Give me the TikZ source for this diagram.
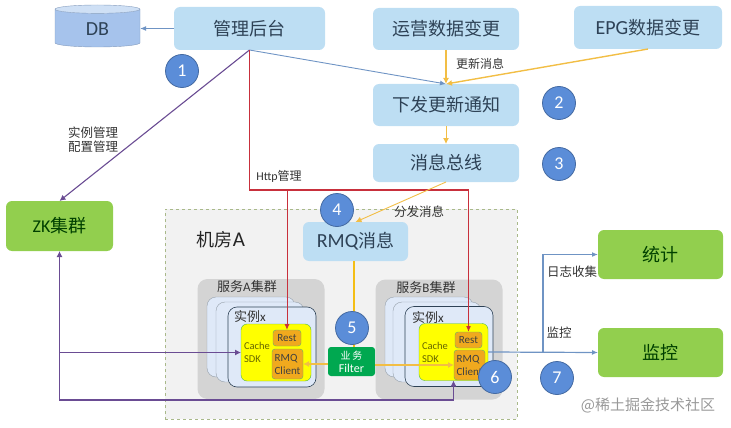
\documentclass[tikz,border=0pt]{standalone}
\usepackage{fontspec}
\setmainfont{Noto Sans CJK SC}
\newfontfamily\lat{Carlito}
\usetikzlibrary{arrows.meta,positioning,calc,shapes.geometric}
\newcommand{\fsz}[1]{\fontsize{#1}{#1}\selectfont}
\definecolor{boxblue}{HTML}{BDDEF3}
\definecolor{boxgreen}{HTML}{92CF4E}
\definecolor{stepblue}{HTML}{5B8DD8}
\definecolor{linepurple}{HTML}{6A4C93}
\definecolor{lineblue}{HTML}{6F94C4}
\definecolor{lineyellow}{HTML}{F2BE45}
\definecolor{linered}{HTML}{C8303C}
\definecolor{fillorange}{HTML}{F0A91E}
\definecolor{fillyellow}{HTML}{FFFF00}
\definecolor{fillgreen}{HTML}{00A850}
\definecolor{instblue}{HTML}{DFE9F8}
\definecolor{boxtext}{HTML}{2E4256}
\definecolor{roomedge}{HTML}{A9B98A}
\definecolor{dbbody}{HTML}{A6C3EC}
\definecolor{dbtop}{HTML}{CFE0F5}

\begin{document}
\begin{tikzpicture}[
  x=1pt,y=-1pt,>=Latex,outer sep=0pt,
  bluebox/.style={fill=boxblue, rounded corners=6pt, align=center, text=boxtext, font=\fsz{18}, minimum width=146pt, minimum height=42pt},
  greenbox/.style={fill=boxgreen, rounded corners=6pt, align=center, text=green!25!black, font=\fsz{18}, minimum width=125pt, minimum height=49pt},
  stepnum/.style={circle, draw=stepblue!75!black, fill=stepblue, thick, text=white, font=\lat\fsz{18}, minimum size=33pt, inner sep=0pt},
  lbl/.style={align=center, inner sep=0pt, text=black!80, font=\fsz{12}},
  cluster/.style={fill=black!17, rounded corners=10pt, minimum width=127pt, minimum height=120pt},
  instback/.style={draw=boxtext!50, fill=instblue, rounded corners=9pt, minimum width=88pt, minimum height=80pt},
  instfront/.style={draw=boxtext, semithick, fill=instblue, rounded corners=9pt, minimum width=88pt, minimum height=80pt},
  sdkbox/.style={draw=green!60!black!70, fill=fillyellow, rounded corners=6pt, minimum width=69pt, minimum height=57pt},
  partbox/.style={draw=green!50!black!60, fill=fillorange, rounded corners=3pt, align=left, inner sep=0pt, text=black!75, font=\lat\fsz{11}},
  sdktext/.style={align=left, inner sep=0pt, text=black!60!fillyellow, font=\lat\fsz{10.5}},
  bluearrow/.style={lineblue, line width=1.2pt, ->, >={Latex[length=6pt,width=5pt]}},
  yellowarrow/.style={lineyellow, line width=1.4pt, ->, >={Latex[length=6pt,width=6pt]}},
  purplearrow/.style={linepurple, line width=1.1pt, >={Latex[length=6pt,width=6pt]}},
  redarrow/.style={linered, line width=1pt, ->, >={Latex[length=6pt,width=5pt]}},
]
\useasboundingbox (0,0) rectangle (731,428);

% top row
\node[bluebox, minimum width=151pt, minimum height=43pt] (admin) at (249.5,28.5) {管理后台};
\node[cylinder, shape border rotate=90, aspect=0.28, cylinder uses custom fill, cylinder body fill=dbbody, cylinder end fill=dbtop, draw=dbbody!80!black, minimum width=85pt, minimum height=42pt, text=boxtext, font=\lat\fsz{20}] (db) at (97.5,29) {DB};
\node[bluebox] (ops) at (446,29) {运营数据变更};
\node[bluebox, minimum width=148pt, minimum height=43pt] (epg) at (648,27.5) {{\lat\fsz{20}EPG}数据变更};

% message path
\node[bluebox, below=34pt of ops] (notify) {下发更新通知};
\node[bluebox, below=18pt of notify, minimum height=38pt] (msgbus) {消息总线};

% right and left hand systems
\node[greenbox, minimum width=107pt, minimum height=50pt] (zk) at (59.5,226) {{\lat ZK}集群};
\node[greenbox] (stats) at (660.5,254.5) {统计};
\node[greenbox, below=49pt of stats] (monitor) {监控};

% machine room
\node[draw=roomedge, dashed, thick, fill=black!5, minimum width=352pt, minimum height=210pt] (room) at (341,314) {};
\node[inner sep=0pt, text=black!85, font=\fsz{18}] (roomname) at (221,240) {机房{\lat\fsz{21}A}};
\node[bluebox, minimum width=105pt, minimum height=39pt] (rmq) at (355.5,241.5) {{\lat\fsz{20}RMQ}消息};
\node[fill=fillgreen, rounded corners=3pt, text=white, align=center, font=\fsz{10}, inner sep=0pt, minimum width=47pt, minimum height=29pt] (filter) at (351.5,361.5) {业\,务\\[3pt]{\lat\fsz{12}Filter}};

% cluster A
\node[cluster] (clustera) at (261,339) {};
\node[lbl, font=\fsz{13}] (clusteraname) at (247,287) {服务{\lat A}集群};
\node[instback] (insta1) at (251,337) {};
\node[instback] (insta2) at (260,342) {};
\node[instfront] (insta3) at (272,347) {};
\node[lbl, font=\fsz{13}] (instaname) at (250,317) {实例{\lat x}};
\node[sdkbox, minimum width=70pt] (sdka) at (276,352.5) {};
\node[sdktext] (sdkatext) at (257,352.5) {Cache\\[2pt]SDK};
\node[partbox, minimum width=28pt, minimum height=16pt] (resta) at (287,338) {Rest};
\node[partbox, minimum width=31pt, minimum height=30pt] (clienta) at (287.5,364) {RMQ\\[2pt]Client};

% cluster B
\node[cluster] (clusterb) at (439,339.5) {};
\node[lbl, font=\fsz{13}] (clusterbname) at (426,288) {服务{\lat B}集群};
\node[instback] (instb1) at (429,337) {};
\node[instback] (instb2) at (437,342) {};
\node[instfront] (instb3) at (449,346.5) {};
\node[lbl, font=\fsz{13}] (instbname) at (428,318) {实例{\lat x}};
\node[sdkbox] (sdkb) at (453.5,352) {};
\node[sdktext] (sdkbtext) at (435,352.5) {Cache\\[2pt]SDK};
\node[partbox, minimum width=27pt, minimum height=16pt] (restb) at (468.5,340) {Rest};
\node[partbox, minimum width=31pt, minimum height=30pt] (clientb) at (469.5,365) {RMQ\\[2pt]Client};

% corner points of the bent lines
\coordinate (redbus) at (350,190);
\coordinate (purplebus) at (300,400);
\coordinate (logsplit) at (543,352.5);
\coordinate (rmqdrop) at (354,261);

% connectors
\draw[bluearrow, line width=1.6pt] (admin.west) -- (db.east |- admin.west);
\draw[bluearrow, line width=0.9pt] (admin.south) -- (notify.north);
\draw[purplearrow, ->] (admin.south) -- (zk.north);
\draw[linered, line width=1.5pt] (admin.south) |- (redbus);
\draw[redarrow, line width=1.5pt] (redbus) -| (restb.north);
\draw[redarrow] (resta.north |- redbus) -- (resta.north);
\draw[yellowarrow] (ops.south) -- (notify.north);
\draw[yellowarrow] (epg.south) -- (notify.north);
\draw[yellowarrow, line width=1pt] (notify.south) -- (msgbus.north);
\draw[yellowarrow, line width=0.9pt] (msgbus.south) -- (rmq.north);
\draw[fillorange!75!fillyellow, line width=1.5pt] (rmqdrop) -- (rmqdrop |- filter.north);
\draw[yellowarrow] (filter.west |- clienta.east) -- (clienta.east);
\draw[yellowarrow] (filter.east |- clientb.west) -- (clientb.west);
\draw[purplearrow, ->] (zk.south |- sdka.west) -- (sdka.west);
\draw[purplearrow, <->] (zk.south) |- (purplebus) -| (sdkb.south);
\draw[bluearrow] (sdkb.east) -- (monitor.west);
\draw[bluearrow] (logsplit) |- (stats.west);

% labels
\node[lbl, font=\fsz{12.5}] (managelbl) at (93,139.5) {实例管理\\[1pt]配置管理};
\node[lbl] (httplbl) at (279,176) {{\lat Http}管理};
\node[lbl] (updatelbl) at (480,64) {更新消息};
\node[lbl, font=\fsz{12.5}] (dispatchlbl) at (419,212) {分发消息};
\node[lbl, font=\fsz{12.5}] (loglbl) at (572,272) {日志收集};
\node[lbl, font=\fsz{12.5}] (monitorlbl) at (559,333) {监控};
\node[lbl, text=black!40, font=\fsz{15}] (marklbl) at (648,405) {@稀土掘金技术社区};

% step numbers
\node[stepnum] (one) at (182,71) {1};
\node[stepnum] (two) at (559,103) {2};
\node[stepnum] (three) at (559,164) {3};
\node[stepnum] (four) at (337,210) {4};
\node[stepnum] (five) at (352,328) {5};
\node[stepnum] (six) at (495,377) {6};
\node[stepnum] (seven) at (557,378) {7};

\end{tikzpicture}
\end{document}
